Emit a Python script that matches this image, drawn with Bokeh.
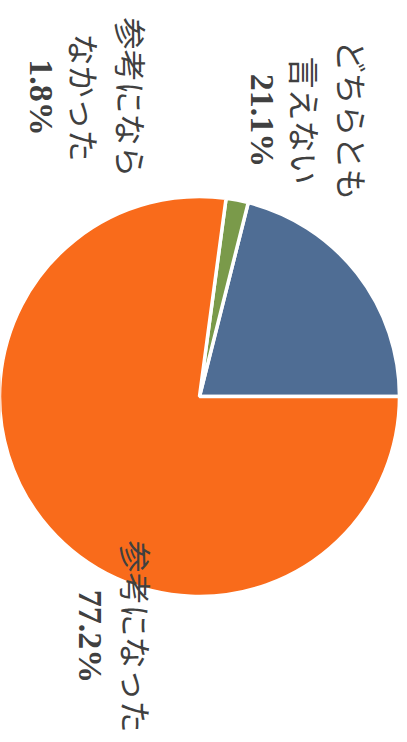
import math
from bokeh.plotting import figure
from bokeh.models import Range1d, ColumnDataSource
from bokeh.core.properties import value
from bokeh.embed import file_html
from bokeh.resources import INLINE

categories = ["どちらとも言えない", "参考にならなかった", "参考になった"]
values = [21.1, 1.8, 77.2]
colors = ["#4F6D94", "#7A9A4A", "#F96B1B"]
label_lines = [["どちらとも", "言えない"], ["参考になら", "なかった"], ["参考になった"]]
pct_labels = ["21.1%", "1.8%", "77.2%"]

W, H = 407, 742
def px(x):
    return x
def py(y):
    return H - y

total = sum(values)
starts, ends = [], []
acc = 0.0
for v in values:
    starts.append(acc / total * 2 * math.pi)
    acc += v
    ends.append(acc / total * 2 * math.pi)

p = figure(width=W, height=H, x_range=Range1d(0, W), y_range=Range1d(0, H),
           output_backend="svg", toolbar_location=None, min_border=0)
p.axis.visible = False
p.grid.visible = False
p.outline_line_color = None
p.background_fill_color = "white"

src = ColumnDataSource(dict(start=starts, end=ends, color=colors, cat=categories))
p.wedge(x=px(199), y=py(396), radius=200, start_angle="start", end_angle="end",
        fill_color="color", line_color="white", line_width=3.5, source=src)

# label layout: (x positions of lines per label, x of percent line, y center)
layout = [([352, 305], 262, 120), ([131, 84], 41, 97), ([136], 90, 636)]
jp_x, jp_y, jp_t = [], [], []
pc_x, pc_y, pc_t = [], [], []
for (xs, pxp, yc), lines, pct in zip(layout, label_lines, pct_labels):
    for xx, t in zip(xs, lines):
        jp_x.append(px(xx)); jp_y.append(py(yc)); jp_t.append(t)
    pc_x.append(px(pxp)); pc_y.append(py(yc)); pc_t.append(pct)

p.text(x=jp_x, y=jp_y, text=jp_t, angle=-math.pi / 2, text_align="center",
       text_baseline="middle", text_font=value("Noto Sans CJK JP"),
       text_font_size="32px", text_color="#404040")
p.text(x=pc_x, y=pc_y, text=pc_t, angle=-math.pi / 2, text_align="center",
       text_baseline="middle", text_font=value("Liberation Serif"),
       text_font_style="bold", text_font_size="34px", text_color="#404040")

open("out.html", "w").write(file_html(p, INLINE))
